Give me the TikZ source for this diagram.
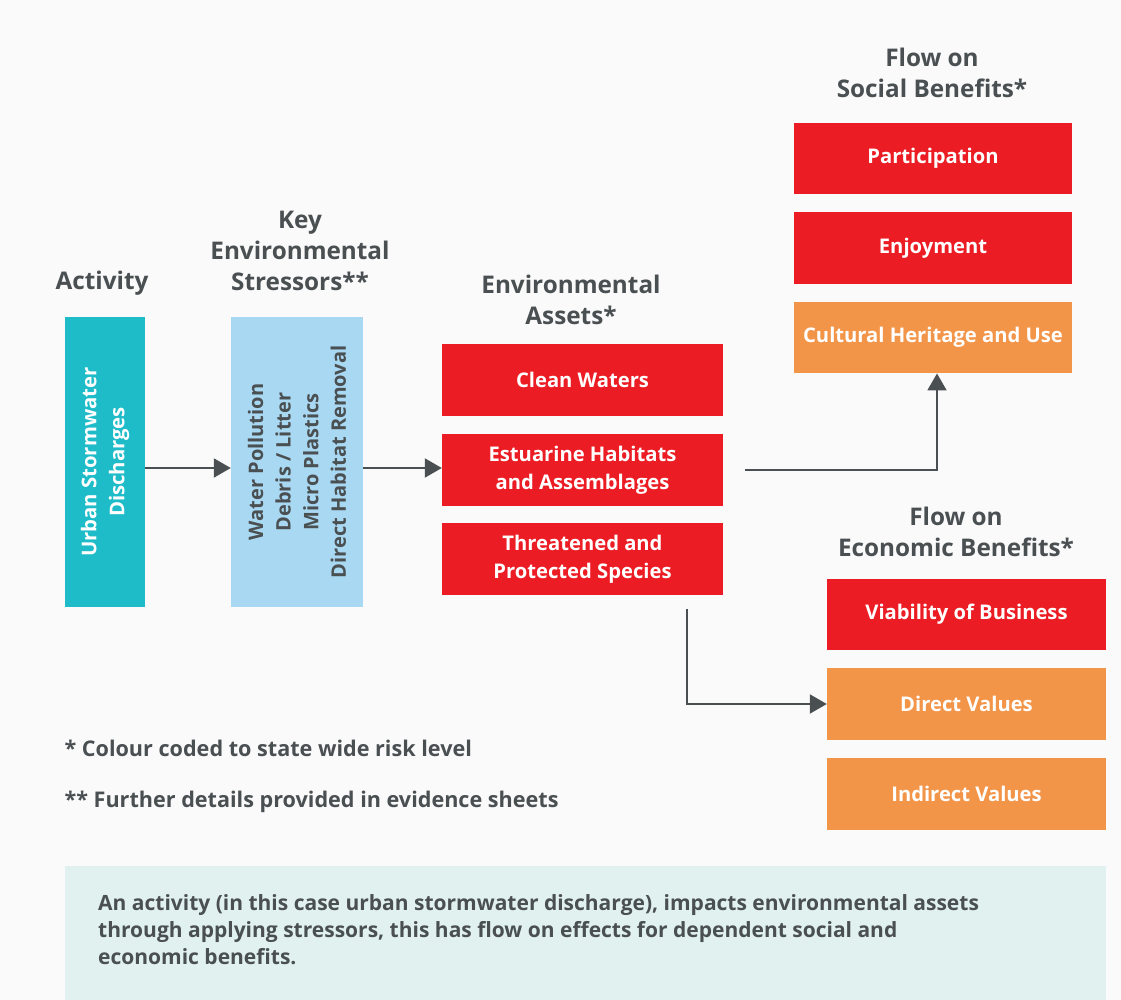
\documentclass[tikz,border=0pt]{standalone}
\usepackage{fontspec}
\setmainfont{Open Sans}
\usepackage{xcolor}
\usetikzlibrary{calc}
\usetikzlibrary{arrows.meta}
\definecolor{txtgray}{HTML}{4A4F52}
\definecolor{riskred}{HTML}{EC1C24}
\definecolor{riskorange}{HTML}{F39549}
\definecolor{acteal}{HTML}{1EBCC8}
\definecolor{strblue}{HTML}{A9D8F2}
\definecolor{notebg}{HTML}{E1F1F0}

\begin{document}
\begin{tikzpicture} [x=1pt, y=-1pt,
  head/.style={text=txtgray, font=\bfseries\fontsize{24.3}{31}\selectfont, align=center},
  box/.style={minimum width=#1, minimum height=71.5pt, inner sep=0pt, text=white,
    font=\bfseries\fontsize{20.2}{28}\selectfont, align=center},
  arr/.style={txtgray, line width=2pt, -{Triangle[length=17pt,width=19pt]}}]
\useasboundingbox (0,0) rectangle (1121,1000);
\fill[white!98!black] (0,0) rectangle (1121,1000);
% column heads
\node[head] (acthead) at (102,283) {Activity};
\node[head] (strhead) at (300,251) {Key\\Environmental\\Stressors**};
\node[head] (asshead) at (571,300) {Environmental\\Assets*};
\node[head] (sochead) at (932,73) {Flow on\\Social Benefits*};
\node[head] (ecohead) at (956,532) {Flow on\\Economic Benefits*};
% activity and stressors
\node[fill=acteal, minimum width=80pt, minimum height=290pt, inner sep=0pt] (act) at (105,462) {};
\node[rotate=90, text=white, align=center, font=\bfseries\fontsize{20.3}{28}\selectfont] at (act.center) {Urban Stormwater\\Discharges};
\node[fill=strblue, minimum width=132pt, minimum height=290pt, inner sep=0pt] (str) at (297,462) {};
\node[rotate=90, text=txtgray, align=center, font=\bfseries\fontsize{20}{27.6}\selectfont] at (str.center) {Water Pollution\\Debris / Litter\\Micro Plastics\\Direct Habitat Removal};
% assets
\node[box=281pt, fill=riskred] (clean) at (582.5,380) {Clean Waters};
\node[box=281pt, fill=riskred] (estu) at (582.5,470) {Estuarine Habitats\\and Assemblages};
\node[box=281pt, fill=riskred] (threat) at (582.5,559) {Threatened and\\Protected Species};
% social benefits
\node[box=278pt, fill=riskred] (part) at (933,158.5) {Participation};
\node[box=278pt, fill=riskred] (enjoy) at (933,248) {Enjoyment};
\node[box=278pt, fill=riskorange] (cult) at (933,337.5) {Cultural Heritage and Use};
% economic benefits
\node[box=279pt, fill=riskred] (viab) at (966.5,614.5) {Viability of Business};
\node[box=279pt, fill=riskorange] (direct) at (966.5,704) {Direct Values};
\node[box=279pt, fill=riskorange] (indirect) at (966.5,794) {Indirect Values};
% connectors
\draw[arr] (act.east |- 0,468) -- (str.west |- 0,468);
\draw[arr] (str.east |- 0,468) -- (estu.west |- 0,468);
\coordinate (socstart) at ($(estu.east)+(22,0)$);
\draw[arr] (socstart) -| ($(cult.south)+(4,0)$);
\coordinate (ecostart) at ($(threat.south)+(104,14)$);
\draw[arr] (ecostart) |- (direct.west);
% notes
\node[anchor=west, text=txtgray, font=\bfseries\fontsize{21.6}{26}\selectfont] (note1) at (61,748) {* Colour coded to state wide risk level};
\node[anchor=west, text=txtgray, font=\bfseries\fontsize{21.6}{26}\selectfont] (note2) at (61,802) {** Further details provided in evidence sheets};
\fill[notebg] (65,866) rectangle (1106,1000);
\node[anchor=north west, text=txtgray, align=left, inner sep=0pt,
  font=\bfseries\fontsize{21}{27}\selectfont] (summary) at (98,894)
  {An activity (in this case urban stormwater discharge), impacts environmental assets\\
   through applying stressors, this has flow on effects for dependent social and\\
   economic benefits.};
\end{tikzpicture}
\end{document}
